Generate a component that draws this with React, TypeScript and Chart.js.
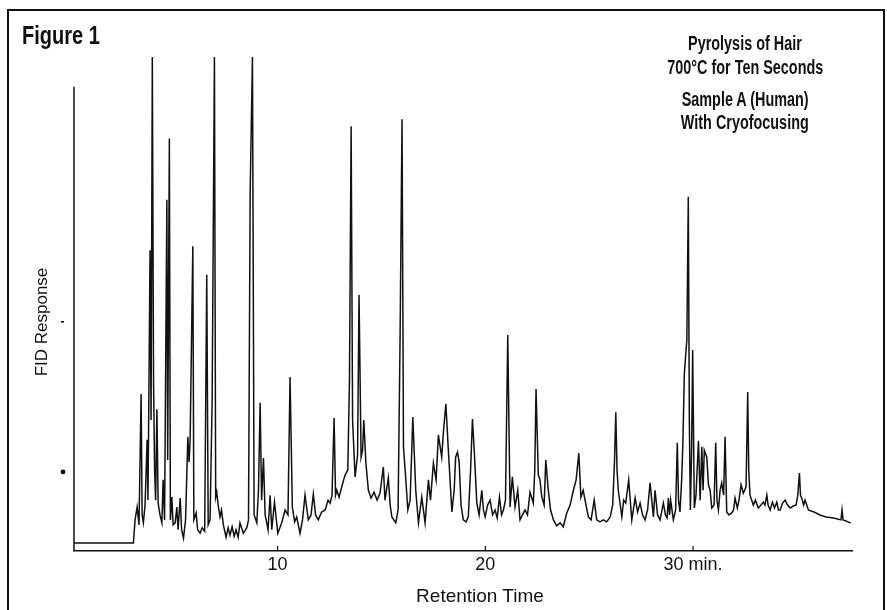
import React, { useEffect, useRef } from "react";
import { Chart, registerables } from "chart.js";

Chart.register(...registerables);

// Retention time (min) of each trace point
const retentionTime = [
  0.20, 3.06, 3.14, 3.24, 3.33, 3.43, 3.48, 3.54, 3.62, 3.72, 3.76, 3.81, 3.86, 3.91, 3.97, 4.03, 4.08, 4.13, 4.19, 4.25,
  4.34, 4.43, 4.49, 4.56, 4.67, 4.71, 4.79, 4.84, 4.91, 4.97, 5.07, 5.15, 5.21, 5.31, 5.38, 5.47, 5.57, 5.68, 5.74, 5.79,
  5.92, 5.97, 6.08, 6.15, 6.27, 6.37, 6.49, 6.59, 6.66, 6.75, 6.85, 6.96, 7.02, 7.07, 7.14, 7.23, 7.30, 7.39, 7.52, 7.62,
  7.71, 7.81, 7.91, 8.00, 8.10, 8.19, 8.35, 8.52, 8.60, 8.68, 8.79, 8.87, 9.00, 9.08, 9.16, 9.23, 9.32, 9.40, 9.48, 9.54,
  9.64, 9.72, 9.85, 10.01, 10.20, 10.36, 10.50, 10.60, 10.71, 10.82, 10.92, 11.08, 11.20, 11.32, 11.48, 11.61, 11.72, 11.83, 11.96, 12.12,
  12.29, 12.43, 12.53, 12.62, 12.72, 12.79, 12.85, 12.96, 13.09, 13.18, 13.25, 13.38, 13.46, 13.54, 13.61, 13.73, 13.85, 13.92, 14.02, 14.09,
  14.15, 14.25, 14.37, 14.50, 14.64, 14.79, 14.93, 15.09, 15.17, 15.33, 15.42, 15.50, 15.69, 15.80, 15.90, 15.99, 16.06, 16.14, 16.27, 16.38,
  16.51, 16.65, 16.78, 16.94, 17.10, 17.26, 17.36, 17.50, 17.63, 17.74, 17.90, 17.99, 18.10, 18.22, 18.39, 18.50, 18.57, 18.66, 18.74, 18.83,
  18.94, 19.07, 19.18, 19.29, 19.38, 19.47, 19.59, 19.70, 19.83, 19.91, 19.99, 20.11, 20.23, 20.35, 20.47, 20.57, 20.68, 20.78, 20.87, 20.97,
  21.08, 21.19, 21.30, 21.43, 21.56, 21.67, 21.79, 21.91, 22.03, 22.15, 22.31, 22.38, 22.44, 22.55, 22.63, 22.72, 22.83, 22.91, 23.03, 23.14,
  23.28, 23.43, 23.60, 23.75, 23.92, 24.08, 24.24, 24.37, 24.50, 24.60, 24.71, 24.80, 24.96, 25.09, 25.24, 25.36, 25.52, 25.68, 25.84, 26.01,
  26.13, 26.22, 26.28, 26.34, 26.40, 26.57, 26.66, 26.76, 26.90, 27.05, 27.21, 27.33, 27.45, 27.57, 27.69, 27.81, 27.93, 28.09, 28.17, 28.29,
  28.41, 28.57, 28.67, 28.75, 28.81, 28.87, 28.92, 29.05, 29.16, 29.24, 29.30, 29.37, 29.45, 29.51, 29.58, 29.70, 29.77, 29.82, 29.87, 29.93,
  29.98, 30.06, 30.14, 30.26, 30.34, 30.42, 30.48, 30.54, 30.66, 30.74, 30.82, 30.90, 31.01, 31.09, 31.15, 31.22, 31.30, 31.38, 31.47, 31.54,
  31.62, 31.73, 31.86, 31.95, 32.02, 32.13, 32.21, 32.31, 32.42, 32.55, 32.63, 32.68, 32.74, 32.90, 33.00, 33.14, 33.27, 33.38, 33.46, 33.55,
  33.61, 33.71, 33.82, 33.92, 34.03, 34.11, 34.19, 34.31, 34.43, 34.55, 34.67, 34.82, 34.96, 35.04, 35.12, 35.17, 35.23, 35.32, 35.39, 35.55,
  35.82, 36.11, 36.40, 36.76, 37.12, 37.17, 37.22, 37.59,
];

// FID response (relative units) of each trace point
const fidResponse = [
  1.6, 1.6, 6.3, 8.9, 5.3, 31.8, 7.3, 5.7, 9.3, 22.5, 10.3, 34.0, 60.9, 26.5, 100, 34.0, 16.4, 10.3, 28.7, 9.7,
  7.3, 5.7, 14.4, 6.3, 71.1, 18.4, 83.5, 6.3, 10.9, 5.3, 5.7, 8.9, 4.3, 10.7, 4.3, 2.6, 6.3, 23.1, 18.0, 22.5,
  61.7, 6.3, 7.7, 4.3, 3.6, 4.7, 4.0, 55.9, 5.3, 6.3, 30.6, 100, 10.9, 11.9, 9.3, 6.9, 8.3, 5.3, 2.8, 4.7,
  3.2, 4.9, 3.0, 4.3, 2.8, 5.7, 3.6, 4.7, 6.3, 72.5, 100, 7.3, 5.7, 12.3, 30.0, 10.3, 18.8, 7.3, 5.7, 4.3,
  11.3, 4.3, 9.9, 3.6, 5.7, 8.3, 7.3, 35.2, 8.9, 5.9, 6.9, 3.6, 6.3, 11.3, 6.3, 7.3, 11.5, 7.3, 6.3, 7.9,
  8.3, 10.3, 9.7, 11.3, 26.9, 11.3, 12.3, 10.9, 13.0, 14.4, 15.4, 16.4, 34.6, 86.0, 26.5, 15.0, 19.4, 51.8, 19.0, 20.4,
  26.5, 17.8, 12.3, 10.7, 11.9, 10.3, 11.7, 17.0, 10.3, 14.8, 9.3, 6.9, 5.7, 8.3, 44.7, 87.4, 21.1, 16.4, 8.3, 10.3,
  27.1, 12.3, 5.7, 10.9, 5.7, 14.4, 10.3, 17.8, 14.4, 23.5, 19.0, 24.5, 29.8, 20.4, 7.9, 12.3, 19.0, 20.0, 18.0, 9.3,
  6.3, 5.9, 6.9, 16.4, 26.7, 20.0, 9.7, 7.3, 12.3, 8.3, 6.9, 9.3, 10.3, 7.3, 8.3, 6.7, 10.9, 7.3, 8.3, 10.3,
  43.7, 8.9, 15.0, 8.9, 12.3, 6.3, 7.3, 8.3, 7.3, 11.9, 9.7, 16.4, 32.8, 15.4, 14.4, 10.9, 9.3, 18.4, 12.3, 8.3,
  6.3, 5.1, 5.7, 4.9, 7.7, 9.3, 12.3, 14.4, 19.8, 10.9, 12.3, 10.3, 6.9, 6.3, 10.3, 6.3, 5.9, 6.3, 5.9, 6.9,
  9.3, 18.4, 28.1, 16.4, 12.3, 6.9, 10.3, 9.7, 14.4, 6.3, 10.7, 7.9, 9.7, 7.3, 6.3, 8.3, 13.8, 6.9, 12.3, 7.3,
  6.3, 9.7, 7.3, 6.7, 10.7, 7.3, 10.3, 6.3, 8.3, 21.9, 10.3, 7.9, 14.4, 21.9, 36.0, 42.7, 71.7, 26.5, 8.3, 20.4,
  40.7, 8.7, 11.3, 22.3, 10.3, 21.1, 12.3, 20.4, 19.0, 13.4, 12.3, 8.7, 9.3, 21.9, 10.3, 8.3, 12.3, 13.8, 11.3, 23.1,
  7.9, 7.3, 7.7, 8.3, 10.7, 8.7, 10.3, 13.4, 11.7, 13.0, 32.2, 16.4, 11.3, 9.3, 10.3, 8.7, 9.3, 9.9, 9.3, 11.3,
  9.3, 8.3, 9.9, 8.7, 9.9, 8.3, 8.3, 9.7, 10.3, 9.3, 8.7, 9.1, 9.3, 11.3, 15.8, 11.3, 10.7, 9.3, 10.3, 8.3,
  7.9, 7.3, 6.9, 6.7, 6.3, 8.3, 6.3, 5.7,
];

const xTickValues = [10, 20, 30];
const xTickLabels = ["10", "20", "30 min."];
const xRange = [0.2, 37.65];
const yRange = [0, 100];
const yAxisTop = 94;
const yDotValue = 16;
const yDashValue = 46.4;

const titleLines = ["Pyrolysis of Hair", "700°C for Ten Seconds", "Sample A (Human)", "With Cryofocusing"];

const boldSans = '"Liberation Sans", Arial, Helvetica, sans-serif';
const plainSans = '"Liberation Sans", Arial, Helvetica, sans-serif';

export default function App() {
  const canvasRef = useRef<HTMLCanvasElement>(null);

  useEffect(() => {
    const canvas = canvasRef.current;
    if (!canvas) return;

    const decor = {
      id: "decor",
      afterDatasetsDraw(chart: any) {
        const { ctx, chartArea, scales } = chart;
        const x = scales.x;
        const y = scales.y;
        const y0 = y.getPixelForValue(0);
        ctx.save();
        ctx.strokeStyle = "#111";
        ctx.fillStyle = "#111";
        // vertical response axis
        ctx.lineWidth = 1.5;
        ctx.beginPath();
        ctx.moveTo(chartArea.left, y0);
        ctx.lineTo(chartArea.left, y.getPixelForValue(yAxisTop));
        ctx.stroke();
        // small upward tick marks
        ctx.lineWidth = 1.2;
        ctx.beginPath();
        xTickValues.forEach((v) => {
          const px = x.getPixelForValue(v);
          ctx.moveTo(px, y0);
          ctx.lineTo(px, y0 - 5);
        });
        ctx.stroke();
        // tick labels
        ctx.font = `18px ${plainSans}`;
        ctx.textAlign = "center";
        ctx.textBaseline = "middle";
        xTickValues.forEach((v, i) => {
          ctx.fillText(xTickLabels[i], x.getPixelForValue(v), y0 + 14);
        });
        // marks left of the response axis
        ctx.beginPath();
        ctx.arc(chartArea.left - 11, y.getPixelForValue(yDotValue), 2.4, 0, Math.PI * 2);
        ctx.fill();
        ctx.fillRect(chartArea.left - 13, y.getPixelForValue(yDashValue) - 0.8, 3, 1.6);
        ctx.restore();
      },
    };

    const chart = new Chart(canvas, {
      type: "line",
      data: {
        datasets: [
          {
            data: retentionTime.map((t, i) => ({ x: t, y: fidResponse[i] })),
            borderColor: "#111",
            borderWidth: 1.5,
            pointRadius: 0,
            fill: false,
            tension: 0,
          },
        ],
      },
      options: {
        animation: false,
        responsive: false,
        devicePixelRatio: 1,
        events: [],
        layout: { padding: { left: 74, right: 35, top: 57, bottom: 59 } },
        plugins: { legend: { display: false }, tooltip: { enabled: false } },
        scales: {
          x: {
            type: "linear",
            min: xRange[0],
            max: xRange[1],
            grid: { display: false, drawTicks: false },
            border: { display: true, color: "#111", width: 1.5 },
            afterFit: (scale: any) => {
              scale.height = 0;
            },
            ticks: { display: false },
          },
          y: {
            type: "linear",
            display: false,
            min: yRange[0],
            max: yRange[1],
          },
        },
      },
      plugins: [decor],
    });

    return () => chart.destroy();
  }, []);

  const titleTops = [33, 57, 89, 112];

  return (
    <div style={{ position: "fixed", left: 0, top: 0, width: 887, height: 610, background: "#fff", overflow: "hidden" }}>
      <canvas ref={canvasRef} width={887} height={610} style={{ position: "absolute", left: 0, top: 0, width: 887, height: 610 }} />
      <div style={{ position: "absolute", left: 7, top: 9, width: 878, height: 700, border: "2px solid #111", boxSizing: "border-box", pointerEvents: "none" }} />
      <div style={{ position: "absolute", left: 22, top: 23, fontFamily: boldSans, fontWeight: 700, fontSize: 25, lineHeight: "25px", color: "#111", whiteSpace: "nowrap", transform: "scaleX(0.8)", transformOrigin: "left center" }}>
        Figure 1
      </div>
      {titleLines.map((line, i) => (
        <div key={line} style={{ position: "absolute", left: 595, width: 300, top: titleTops[i], textAlign: "center", color: "#111", whiteSpace: "nowrap" }}>
          <span style={{ display: "inline-block", fontFamily: boldSans, fontWeight: 700, fontSize: 20, lineHeight: "20px", transform: "scaleX(0.72)", transformOrigin: "center center" }}>
            {line}
          </span>
        </div>
      ))}
      <div style={{ position: "absolute", left: 42, top: 322, transform: "translate(-50%, -50%) rotate(-90deg)", fontFamily: plainSans, fontSize: 17, color: "#111", whiteSpace: "nowrap" }}>
        FID Response
      </div>
      <div style={{ position: "absolute", left: 480, top: 596, transform: "translate(-50%, -50%)", fontFamily: plainSans, fontSize: 19, color: "#111", whiteSpace: "nowrap" }}>
        Retention Time
      </div>
    </div>
  );
}
